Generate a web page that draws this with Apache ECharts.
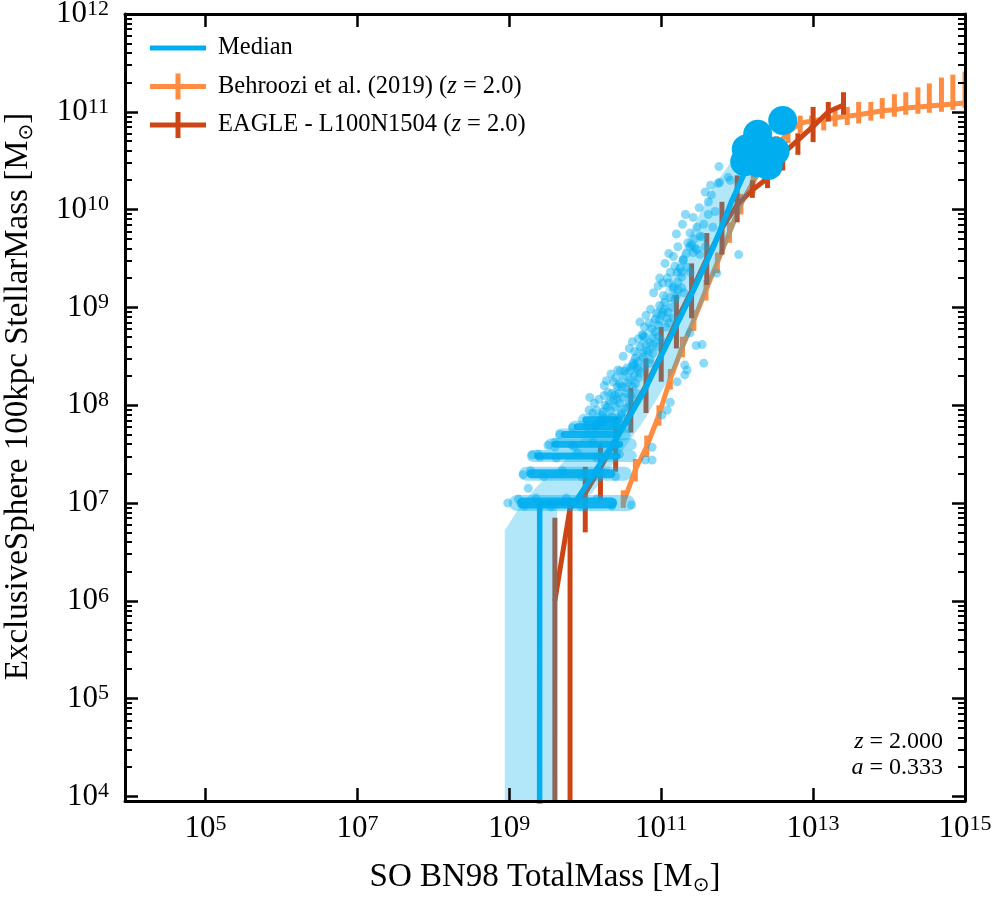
<!DOCTYPE html>
<html>
<head>
<meta charset="utf-8">
<title>Stellar mass - halo mass relation</title>
<script src="https://cdn.jsdelivr.net/npm/echarts@6.0.0/dist/echarts.min.js"></script>
<style>
  html, body { margin: 0; padding: 0; background: #fff; }
  #chart { width: 996px; height: 900px; }
</style>
</head>
<body>
<div id="chart"></div>
<script>
// Every mass below is log10(M / Msun).
// ZERO stands for a value of 0 (log clipped far below the axis, like matplotlib does)
var ZERO = -1000;

// axis ranges and tick labels (exponents)
var X_MIN = 3.94, X_MAX = 15;
var Y_MIN = 3.953, Y_MAX = 12;
var xTickExponents = [5, 7, 9, 11, 13, 15];
var yTickExponents = [4, 5, 6, 7, 8, 9, 10, 11, 12];
var minorMultipliers = [2, 3, 4, 5, 6, 7, 8, 9];

// Median of the simulation and its 16-84 percentile band
var medianLogMass = [8.94, 9.17, 9.40, 9.63, 9.86, 10.09, 10.32, 10.55, 10.78, 11.01, 11.24, 11.47, 11.70, 11.93, 12.16, 12.39];
var medianLogStellar = [ZERO, ZERO, 7.0, 7.0, 7.0, 7.27, 7.55, 7.84, 8.15, 8.52, 8.88, 9.25, 9.64, 10.09, 10.48, 10.65];
var bandLogHigh = [6.72, 7.0, 7.2, 7.35, 7.55, 7.8, 8.1, 8.4, 8.75, 9.1, 9.5, 9.9, 10.25, 10.5, 10.7, 10.8];
var bandLogLow = [ZERO, ZERO, ZERO, 7.0, 7.0, 7.1, 7.35, 7.6, 7.85, 8.15, 8.45, 8.9, 9.35, 9.75, 10.2, 10.45];

// Behroozi et al. (2019), z = 2
var behrooziLogMass = [10.50, 10.66, 10.81, 10.97, 11.12, 11.28, 11.43, 11.59, 11.74, 11.90, 12.05, 12.21, 12.36, 12.52, 12.67,
  12.83, 12.98, 13.14, 13.29, 13.45, 13.60, 13.76, 13.91, 14.07, 14.22, 14.38, 14.53, 14.69, 14.84, 15.00];
var behrooziLogStellar = [7.0, 7.34, 7.58, 7.90, 8.27, 8.60, 8.87, 9.18, 9.46, 9.77, 10.06, 10.28, 10.49, 10.65, 10.79,
  10.885, 10.905, 10.925, 10.94, 10.955, 10.97, 10.99, 11.01, 11.02, 11.04, 11.05, 11.06, 11.07, 11.08, 11.09];
var behrooziLogHigh = [7.13, 7.45, 7.69, 8.0, 8.37, 8.70, 8.97, 9.28, 9.56, 9.87, 10.16, 10.38, 10.59, 10.75, 10.88,
  10.96, 10.96, 10.97, 11.02, 11.05, 11.10, 11.10, 11.14, 11.18, 11.20, 11.25, 11.29, 11.35, 11.38, 11.41];
var behrooziLogLow = [6.95, 7.22, 7.47, 7.79, 8.16, 8.49, 8.76, 9.07, 9.35, 9.66, 9.95, 10.17, 10.38, 10.54, 10.68,
  10.78, 10.80, 10.81, 10.85, 10.865, 10.88, 10.91, 10.93, 10.95, 10.97, 10.98, 10.99, 11.0, 11.02, 11.04];

// EAGLE L100N1504, z = 2
var eagleLogMass = [9.6, 9.8, 10.0, 10.2, 10.4, 10.6, 10.8, 11.0, 11.2, 11.4, 11.6, 11.8, 12.0, 12.2, 12.4, 12.6, 12.8, 13.0, 13.2, 13.4];
var eagleLogStellar = [6.0, 6.95, 7.1, 7.36, 7.64, 7.93, 8.2, 8.52, 8.86, 9.17, 9.5, 9.81, 10.05, 10.2, 10.32, 10.57, 10.71, 10.85, 11.0, 11.07];
var eagleLogLow = [ZERO, ZERO, 6.70, 7.03, 7.32, 7.72, 7.92, 8.24, 8.58, 8.89, 9.23, 9.54, 9.87, 10.12, 10.22, 10.40, 10.56, 10.69, 10.90, 10.97];
var eagleLogHigh = [6.85, 7.05, 7.37, 7.61, 7.88, 8.18, 8.48, 8.80, 9.13, 9.45, 9.76, 10.08, 10.35, 10.30, 10.38, 10.61, 10.78, 11.05, 11.10, 11.20];

// individual haloes (sparse part of the cloud)
var haloPoints = [
  [11.62, 10.08], [11.38, 9.76], [11.51, 9.73], [11.40, 9.64], [11.44, 9.61], [11.47, 9.59], [11.16, 9.52], [11.29, 9.49],
  [11.12, 9.36], [11.21, 9.36], [11.27, 9.36], [11.38, 9.36], [11.02, 9.25], [11.22, 9.26], [11.16, 9.19], [11.27, 9.20],
  [11.12, 9.10], [11.18, 9.08], [11.14, 9.00], [11.02, 8.95], [10.94, 8.94], [11.08, 8.89], [10.98, 8.87], [10.84, 8.84],
  [10.96, 8.82], [10.92, 8.75], [10.76, 8.71], [10.89, 8.69], [10.85, 8.64], [11.46, 8.61], [11.54, 8.62], [10.94, 8.60],
  [10.81, 8.56], [10.89, 8.53], [10.76, 8.49], [10.85, 8.47], [10.65, 8.41], [10.68, 8.38], [10.46, 8.35], [10.52, 8.35],
  [10.59, 8.35], [11.31, 8.41], [11.56, 8.43], [11.34, 8.36], [11.31, 8.31], [10.72, 8.33], [10.42, 8.19], [10.56, 8.23],
  [10.63, 8.19], [10.35, 8.12], [10.37, 8.05], [10.50, 8.08], [10.29, 7.98], [10.23, 7.93], [11.12, 8.03], [12.02, 9.54],
  [11.21, 8.24], [11.76, 10.44], [11.88, 10.33], [11.91, 10.30], [11.77, 10.28], [11.75, 10.27], [11.71, 9.98], [11.68, 9.82],
  [11.47, 9.82], [11.54, 9.72], [11.38, 9.62], [11.42, 9.56], [11.29, 9.48], [11.34, 9.41], [11.27, 9.31], [11.73, 9.35],
  [11.16, 9.21], [11.22, 9.18], [11.51, 9.54], [11.09, 8.95], [11.16, 8.89], [10.75, 8.72], [11.38, 8.74], [10.76, 8.53],
  [10.63, 8.43], [10.85, 8.43], [10.43, 8.36], [10.37, 8.24], [10.59, 8.26], [10.48, 8.19], [10.30, 8.13], [10.39, 8.10],
  [10.26, 8.00], [10.06, 8.08], [10.10, 7.92], [10.22, 7.90], [10.33, 7.95], [11.08, 7.95], [9.83, 7.77], [9.67, 7.70],
  [10.02, 7.78], [10.13, 7.78], [9.51, 7.59], [9.60, 7.57], [9.83, 7.59], [9.30, 7.49], [9.40, 7.47], [9.25, 7.15],
  [9.18, 7.29], [8.98, 7.00], [10.23, 7.83], [11.01, 7.90], [10.88, 7.57], [10.79, 7.44], [10.88, 7.44], [10.61, 6.98],
  [10.40, 7.98], [10.45, 8.02], [10.52, 7.96], [10.55, 8.12], [10.60, 8.10], [10.66, 8.22], [10.70, 8.28], [10.47, 7.90],
  [10.36, 7.88], [10.58, 8.02], [10.64, 8.30], [10.70, 8.45], [10.80, 8.62], [10.88, 8.78], [11.00, 8.92], [11.05, 9.05],
  [10.53, 8.18], [10.44, 8.12], [10.28, 7.86], [10.20, 7.84], [10.15, 7.80], [10.65, 8.55], [10.72, 8.60], [10.96, 8.70],
  [11.06, 8.80], [10.98, 9.02], [11.20, 9.12], [11.10, 9.25], [11.25, 9.40], [11.33, 9.55], [11.44, 9.70], [11.56, 9.85],
  [11.62, 9.95], [11.66, 10.15], [11.58, 9.62],
  [10.05, 7.95], [10.12, 8.02], [10.18, 8.06], [10.25, 8.10], [10.32, 8.04], [10.42, 8.06], [10.48, 7.92], [10.56, 7.98],
  [10.62, 8.05], [10.68, 8.12], [10.15, 7.95], [10.28, 8.25], [10.34, 8.32], [10.40, 8.28], [10.50, 8.30], [10.55, 8.38],
  [10.62, 8.40], [10.70, 8.36], [10.78, 8.40], [10.45, 8.22], [10.25, 8.20], [10.50, 8.50], [10.58, 8.58], [10.62, 8.65],
  [10.70, 8.68], [10.78, 8.70], [10.84, 8.55], [10.90, 8.62], [11.00, 8.66], [10.66, 8.48], [10.72, 8.85], [10.80, 8.92],
  [10.86, 8.98], [10.92, 8.88], [11.04, 8.98], [10.78, 8.80], [11.10, 8.84], [10.90, 9.15], [10.96, 9.22], [11.03, 9.12],
  [11.08, 9.30], [11.30, 9.15], [10.98, 9.30], [11.05, 9.45], [11.10, 9.55], [11.18, 9.42], [11.22, 9.62], [11.35, 9.66],
  [11.20, 9.75], [11.28, 9.85], [11.32, 9.95], [11.42, 9.92], [11.50, 10.02], [11.58, 10.18], [11.65, 10.25],
  [9.12, 7.04], [9.20, 6.97], [9.35, 7.05], [9.55, 6.96], [9.75, 7.05], [9.95, 6.96], [10.15, 7.04], [10.35, 6.97],
  [9.28, 7.33], [9.45, 7.27], [9.70, 7.33], [9.95, 7.27], [10.20, 7.33], [10.40, 7.27],
  [9.38, 7.50], [9.62, 7.46], [9.90, 7.51], [10.15, 7.46], [10.45, 7.50],
  [9.60, 7.62], [9.85, 7.58], [10.10, 7.62], [10.40, 7.58]
];

// dense rows of haloes at 1, 2, 3 ... star particles (level, from, to)
var stripeLevel = [7.0, 7.30, 7.48, 7.60, 7.70, 7.78, 7.85];
var stripeFrom = [9.10, 9.22, 9.31, 9.55, 9.68, 9.86, 9.98];
var stripeTo = [10.55, 10.52, 10.60, 10.60, 10.52, 10.55, 10.52];

// most massive haloes, drawn as big markers
var massiveHaloes = [[12.60, 10.91], [12.27, 10.77], [12.12, 10.62], [12.50, 10.60], [12.27, 10.48], [12.10, 10.49], [12.41, 10.45]];

var BLUE = '#00AEEF', ORANGE = '#FF8C40', RED = '#CC4515';
var SERIF = '"Liberation Serif", "DejaVu Serif", serif';

var yMinorTicks = [];
for (var n = 3; n < 12; n++) {
  minorMultipliers.forEach(function (k) {
    var v = n + Math.log10(k);
    if (v > Y_MIN && v < Y_MAX) yMinorTicks.push(v);
  });
}

function pairs(xs, ys) {
  return xs.map(function (x, i) { return [x, ys[i]]; });
}

function triples(xs, lo, hi) {
  return xs.map(function (x, i) { return [x, lo[i], hi[i]]; });
}

function errorBars(color) {
  return function (params, api) {
    var cs = params.coordSys;
    var top = api.coord([api.value(0), api.value(2)]);
    var bot = api.coord([api.value(0), api.value(1)]);
    return {
      type: 'line',
      shape: { x1: top[0], y1: Math.max(top[1], cs.y), x2: bot[0], y2: Math.min(bot[1], cs.y + cs.height) },
      style: { stroke: color, lineWidth: 5 }
    };
  };
}

function powLabel(v) {
  return '{b|10}{s|' + Math.round(v) + '}';
}

var labelRich = {
  b: { fontFamily: SERIF, fontSize: 31, lineHeight: 32, color: '#000' },
  s: { fontFamily: SERIF, fontSize: 22, lineHeight: 22, verticalAlign: 'top', color: '#000' }
};
var nameRich = {
  n: { fontFamily: SERIF, fontSize: 33, lineHeight: 38, color: '#000' },
  sub: { fontFamily: '"DejaVu Sans", sans-serif', fontSize: 20, lineHeight: 20, verticalAlign: 'bottom', color: '#000' }
};

var frame = { onZero: false, lineStyle: { color: '#000', width: 3 } };

function majorTicks(values) {
  return { inside: true, length: 13, customValues: values, lineStyle: { color: '#000', width: 2.5 } };
}
function minorTicks(values) {
  return { inside: true, length: 7, customValues: values, lineStyle: { color: '#000', width: 2 } };
}

var legendIconLine = 'path://M0,0 M56,26 M0,10.5 L56,10.5 L56,15.5 L0,15.5 Z';
var legendIconBar = 'path://M0,0 M56,26 M0,10.5 L56,10.5 L56,15.5 L0,15.5 Z M25.5,0 L30.5,0 L30.5,26 L25.5,26 Z';
var legendText = {
  'Median': '{n|Median}',
  'Behroozi et al. (2019) (z = 2.0)': '{n|Behroozi et al. (2019) (}{i|z}{n| = 2.0)}',
  'EAGLE - L100N1504 (z = 2.0)': '{n|EAGLE - L100N1504 (}{i|z}{n| = 2.0)}'
};

var chart = echarts.init(document.getElementById('chart'));

var option = {
  animation: false,
  backgroundColor: '#fff',
  grid: { left: 125, right: 31, top: 14, bottom: 99, containLabel: false, outerBoundsMode: 'none' },
  legend: {
    orient: 'vertical',
    left: 145,
    top: 30,
    itemWidth: 56,
    itemHeight: 26,
    itemGap: 12.5,
    data: [
      { name: 'Median', icon: legendIconLine, itemStyle: { color: BLUE, borderWidth: 0 } },
      { name: 'Behroozi et al. (2019) (z = 2.0)', icon: legendIconBar, itemStyle: { color: ORANGE, borderWidth: 0 } },
      { name: 'EAGLE - L100N1504 (z = 2.0)', icon: legendIconBar, itemStyle: { color: RED, borderWidth: 0 } }
    ],
    formatter: function (name) { return legendText[name]; },
    textStyle: {
      padding: [0, 0, 0, 7],
      rich: {
        n: { fontFamily: SERIF, fontSize: 24.5, color: '#000' },
        i: { fontFamily: SERIF, fontSize: 24.5, fontStyle: 'italic', color: '#000' }
      }
    }
  },
  xAxis: [
    {
      type: 'value', position: 'bottom', min: X_MIN, max: X_MAX, z: 10,
      axisLine: frame, axisTick: majorTicks(xTickExponents), splitLine: { show: false },
      axisLabel: { customValues: xTickExponents, formatter: powLabel, rich: labelRich, margin: 12 },
      name: '{n|SO BN98 TotalMass [M}{sub|\u2299}{n|]}',
      nameLocation: 'middle', nameGap: 57, nameTextStyle: { rich: nameRich }
    },
    {
      type: 'value', position: 'top', min: X_MIN, max: X_MAX, z: 10,
      axisLine: frame, axisTick: majorTicks(xTickExponents), splitLine: { show: false },
      axisLabel: { show: false }
    }
  ],
  yAxis: [
    {
      type: 'value', position: 'left', min: Y_MIN, max: Y_MAX, z: 10,
      axisLine: frame, axisTick: majorTicks(yTickExponents), splitLine: { show: false },
      axisLabel: { customValues: yTickExponents, formatter: powLabel, rich: labelRich, margin: 16 },
      name: '{n|ExclusiveSphere 100kpc StellarMass [M}{sub|\u2299}{n|]}',
      nameLocation: 'middle', nameGap: 88,
      nameTextStyle: { rich: nameRich, padding: [0, 0, 0, 22] }
    },
    {
      type: 'value', position: 'left', min: Y_MIN, max: Y_MAX, z: 10,
      axisLine: { show: false }, axisTick: minorTicks(yMinorTicks), splitLine: { show: false },
      axisLabel: { show: false }
    },
    {
      type: 'value', position: 'right', min: Y_MIN, max: Y_MAX, z: 10,
      axisLine: frame, axisTick: majorTicks(yTickExponents), splitLine: { show: false },
      axisLabel: { show: false }
    },
    {
      type: 'value', position: 'right', min: Y_MIN, max: Y_MAX, z: 10,
      axisLine: { show: false }, axisTick: minorTicks(yMinorTicks), splitLine: { show: false },
      axisLabel: { show: false }
    }
  ],
  graphic: [
    {
      type: 'text', x: 943, y: 742, z: 20,
      style: {
        text: '{i|z}{n| = 2.000}', align: 'right', verticalAlign: 'middle',
        rich: {
          i: { fontFamily: SERIF, fontSize: 24, fontStyle: 'italic', fill: '#000' },
          n: { fontFamily: SERIF, fontSize: 24, fill: '#000' }
        }
      }
    },
    {
      type: 'text', x: 943, y: 768, z: 20,
      style: {
        text: '{i|a}{n| = 0.333}', align: 'right', verticalAlign: 'middle',
        rich: {
          i: { fontFamily: SERIF, fontSize: 24, fontStyle: 'italic', fill: '#000' },
          n: { fontFamily: SERIF, fontSize: 24, fill: '#000' }
        }
      }
    }
  ],
  series: [
    {
      type: 'custom', name: 'Behroozi et al. (2019) (z = 2.0)', clip: true, z: 2,
      renderItem: errorBars(ORANGE), itemStyle: { color: ORANGE },
      encode: { x: 0, y: [1, 2] },
      data: triples(behrooziLogMass, behrooziLogLow, behrooziLogHigh)
    },
    {
      type: 'line', name: 'Behroozi et al. (2019) (z = 2.0)', z: 2, symbol: 'none',
      itemStyle: { color: ORANGE }, lineStyle: { color: ORANGE, width: 5 },
      data: pairs(behrooziLogMass, behrooziLogStellar)
    },
    {
      type: 'custom', name: 'EAGLE - L100N1504 (z = 2.0)', clip: true, z: 3,
      renderItem: errorBars(RED), itemStyle: { color: RED },
      encode: { x: 0, y: [1, 2] },
      data: triples(eagleLogMass, eagleLogLow, eagleLogHigh)
    },
    {
      type: 'line', name: 'EAGLE - L100N1504 (z = 2.0)', z: 3, symbol: 'none',
      itemStyle: { color: RED }, lineStyle: { color: RED, width: 5 },
      data: pairs(eagleLogMass, eagleLogStellar)
    },
    {
      // 16-84 percentile band
      type: 'custom', clip: true, z: 4, silent: true,
      encode: { x: 0, y: [1, 2] },
      data: triples(medianLogMass, bandLogLow, bandLogHigh),
      renderItem: function (params, api) {
        if (params.dataIndex !== 0) return;
        var pts = [];
        for (var i = 0; i < medianLogMass.length; i++) pts.push(api.coord([medianLogMass[i], bandLogHigh[i]]));
        for (var j = medianLogMass.length - 1; j >= 0; j--) pts.push(api.coord([medianLogMass[j], bandLogLow[j]]));
        return { type: 'polygon', shape: { points: pts }, style: { fill: BLUE, opacity: 0.3 } };
      }
    },
    {
      // crowded rows of haloes at fixed star particle counts
      type: 'custom', clip: true, z: 5, silent: true,
      encode: { x: [1, 2], y: 0 },
      data: stripeLevel.map(function (y, i) { return [y, stripeFrom[i], stripeTo[i]]; }),
      renderItem: function (params, api) {
        var a = api.coord([api.value(1), api.value(0)]);
        var b = api.coord([api.value(2), api.value(0)]);
        var len = b[0] - a[0];
        var core = params.dataIndex === 0 ? 11 : (params.dataIndex === 1 ? 9 : 7);
        return {
          type: 'group',
          children: [
            {
              type: 'line', shape: { x1: a[0], y1: a[1], x2: b[0], y2: b[1] },
              style: { stroke: BLUE, opacity: 0.4, lineWidth: core + 5, lineCap: 'round' }
            },
            {
              type: 'line', shape: { x1: a[0] + len * 0.05, y1: a[1], x2: b[0] - len * 0.14, y2: b[1] },
              style: { stroke: BLUE, opacity: 0.9, lineWidth: core, lineCap: 'round' }
            }
          ]
        };
      }
    },
    {
      type: 'scatter', z: 5, symbolSize: 9, silent: true,
      itemStyle: { color: BLUE, opacity: 0.45 },
      data: haloPoints
    },
    {
      type: 'line', name: 'Median', z: 6, symbol: 'none',
      itemStyle: { color: BLUE }, lineStyle: { color: BLUE, width: 5.5 },
      data: pairs(medianLogMass, medianLogStellar)
    },
    {
      type: 'scatter', z: 7, symbolSize: 29, silent: true,
      itemStyle: { color: BLUE, opacity: 1 },
      data: massiveHaloes
    }
  ]
};

chart.setOption(option);
</script>
</body>
</html>
